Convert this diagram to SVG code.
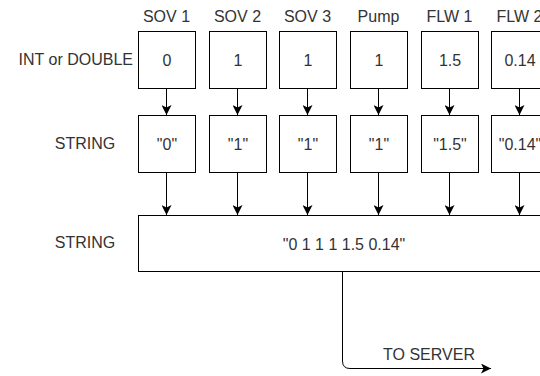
<svg xmlns="http://www.w3.org/2000/svg" width="540" height="376" viewBox="0 0 540 376">
<style>
.box{fill:#fff;stroke:#000;stroke-width:1}
.t{font-family:"Liberation Sans",Arial,sans-serif;font-size:16px;fill:#333;text-anchor:middle;dominant-baseline:central}
.c{fill:none;stroke:#000;stroke-width:1}
</style>
<defs>
<marker id="ah" viewBox="0 0 10 10" refX="10" refY="5" markerWidth="10" markerHeight="10" markerUnits="userSpaceOnUse" orient="auto">
<path d="M0,0 L10,5 L0,10 L2.5,5 Z" fill="#000"/>
</marker>
</defs>
<rect width="540" height="376" fill="#fff"/>
<g id="labels">
<text class="t" x="166.5" y="16">SOV 1</text>
<text class="t" x="237.5" y="16">SOV 2</text>
<text class="t" x="307.5" y="16">SOV 3</text>
<text class="t" x="378.5" y="16">Pump</text>
<text class="t" x="449.5" y="16">FLW 1</text>
<text class="t" x="519.5" y="16">FLW 2</text>
<text class="t" x="133" y="59" style="text-anchor:end">INT or DOUBLE</text>
<text class="t" x="85" y="143">STRING</text>
<text class="t" x="85" y="242">STRING</text>
</g>
<g id="connectors">
<path class="c" d="M166.5,88 V115" marker-end="url(#ah)"/>
<path class="c" d="M237.5,88 V115" marker-end="url(#ah)"/>
<path class="c" d="M307.5,88 V115" marker-end="url(#ah)"/>
<path class="c" d="M378.5,88 V115" marker-end="url(#ah)"/>
<path class="c" d="M449.5,88 V115" marker-end="url(#ah)"/>
<path class="c" d="M519.5,88 V115" marker-end="url(#ah)"/>
<path class="c" d="M166.5,172 V215" marker-end="url(#ah)"/>
<path class="c" d="M237.5,172 V215" marker-end="url(#ah)"/>
<path class="c" d="M307.5,172 V215" marker-end="url(#ah)"/>
<path class="c" d="M378.5,172 V215" marker-end="url(#ah)"/>
<path class="c" d="M449.5,172 V215" marker-end="url(#ah)"/>
<path class="c" d="M519.5,172 V215" marker-end="url(#ah)"/>
<path class="c" d="M342.5,271 V361 Q342.5,368.5 350,368.5 H491" marker-end="url(#ah)"/>
<text class="t" x="429" y="354">TO SERVER</text>
</g>
<g id="sov1"><rect class="box" x="138.5" y="31.5" width="57" height="57"/><text class="t" x="167" y="60">0</text></g>
<g id="sov2"><rect class="box" x="209.5" y="31.5" width="57" height="57"/><text class="t" x="238" y="60">1</text></g>
<g id="sov3"><rect class="box" x="279.5" y="31.5" width="57" height="57"/><text class="t" x="308" y="60">1</text></g>
<g id="pump"><rect class="box" x="350.5" y="31.5" width="57" height="57"/><text class="t" x="379" y="60">1</text></g>
<g id="flw1"><rect class="box" x="421.5" y="31.5" width="57" height="57"/><text class="t" x="450" y="60">1.5</text></g>
<g id="flw2"><rect class="box" x="491.5" y="31.5" width="57" height="57"/><text class="t" x="520" y="60">0.14</text></g>
<g id="sov1s"><rect class="box" x="138.5" y="115.5" width="57" height="57"/><text class="t" x="167" y="144">"0"</text></g>
<g id="sov2s"><rect class="box" x="209.5" y="115.5" width="57" height="57"/><text class="t" x="238" y="144">"1"</text></g>
<g id="sov3s"><rect class="box" x="279.5" y="115.5" width="57" height="57"/><text class="t" x="308" y="144">"1"</text></g>
<g id="pumps"><rect class="box" x="350.5" y="115.5" width="57" height="57"/><text class="t" x="379" y="144">"1"</text></g>
<g id="flw1s"><rect class="box" x="421.5" y="115.5" width="57" height="57"/><text class="t" x="450" y="144">"1.5"</text></g>
<g id="flw2s"><rect class="box" x="491.5" y="115.5" width="57" height="57"/><text class="t" x="520" y="144">"0.14"</text></g>
<g id="combined"><rect class="box" x="138.5" y="215.5" width="412" height="56"/><text class="t" x="344" y="244">"0 1 1 1 1.5 0.14"</text></g>
</svg>
